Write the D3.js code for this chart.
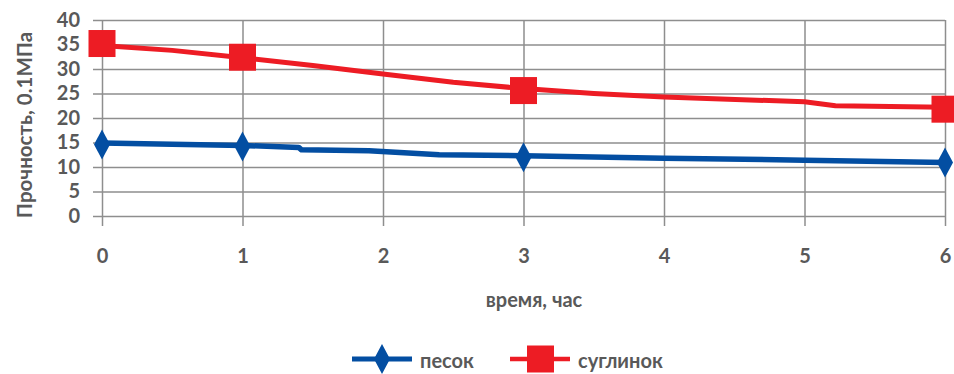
<!DOCTYPE html>
<html>
<head>
<meta charset="utf-8">
<script src="https://cdn.jsdelivr.net/npm/d3@7"></script>
<style>
  html, body { margin: 0; padding: 0; background: #fff; }
  svg { display: block; font-family: Lato, "Open Sans", sans-serif; }
</style>
</head>
<body>
<svg id="chart" width="954" height="374"></svg>
<script>
// Time axis (hours) and strength axis (0.1 MPa)
const xTicks = [0, 1, 2, 3, 4, 5, 6];
const yTicks = [0, 5, 10, 15, 20, 25, 30, 35, 40];

// Sand (песок): measured curve and marked points
const sandTime   = [0, 1, 1.4, 1.42, 1.9, 2.4, 3, 4, 5, 6];
const sandValue  = [14.9, 14.4, 14.0, 13.5, 13.3, 12.5, 12.3, 11.8, 11.4, 10.9];
const sandMarkT  = [0, 1, 3, 6];
const sandMarkV  = [14.6, 14.2, 12.0, 10.9];

// Loam (суглинок): measured curve and marked points
const loamTime   = [0, 0.5, 1, 1.5, 2, 2.5, 3, 3.5, 4, 5, 5.22, 6];
const loamValue  = [34.8, 33.8, 32.3, 30.7, 29.0, 27.3, 26.0, 25.0, 24.3, 23.3, 22.5, 22.2];
const loamMarkT  = [0, 1, 3, 6];
const loamMarkV  = [35.2, 32.4, 25.6, 21.8];

const seriesNames = ["песок", "суглинок"];
const colors = { sand: "#034EA2", loam: "#ED1C24" };
const textColor = "#595959";
const gridColor = "#8E8E8E";

const svg = d3.select("#chart");
const plotLeft = 102, plotRight = 945, plotTop = 20, plotBottom = 216;

const x = d3.scaleLinear().domain([0, 6]).range([plotLeft, plotRight]);
const y = d3.scaleLinear().domain([0, 40]).range([plotBottom, plotTop]);

// Horizontal gridlines with short ticks to the left
const yAxis = d3.axisLeft(y).tickValues(yTicks).tickFormat(d3.format("d"))
  .tickSize(-(plotRight - plotLeft)).tickSizeOuter(0).tickPadding(22);
const gy = svg.append("g").attr("transform", `translate(${plotLeft},0)`).call(yAxis);
gy.select(".domain").remove();
gy.selectAll(".tick line")
  .attr("x1", -9)
  .attr("stroke", gridColor).attr("stroke-width", 1.5);
gy.selectAll(".tick text")
  .attr("fill", textColor).attr("font-size", 20).attr("font-weight", 700)
  .attr("font-family", "Lato, sans-serif");

// Vertical gridlines extending slightly below the baseline
const xAxis = d3.axisBottom(x).tickValues(xTicks).tickFormat(d3.format("d"))
  .tickSize(-(plotBottom - plotTop)).tickSizeOuter(0).tickPadding(33);
const gx = svg.append("g").attr("transform", `translate(0,${plotBottom})`).call(xAxis);
gx.select(".domain").remove();
gx.selectAll(".tick line")
  .attr("y1", 10)
  .attr("stroke", gridColor).attr("stroke-width", 1.5);
gx.selectAll(".tick text")
  .attr("fill", textColor).attr("font-size", 20).attr("font-weight", 700)
  .attr("font-family", "Lato, sans-serif");

// Axis titles
svg.append("text")
  .attr("x", 534).attr("y", 307)
  .attr("text-anchor", "middle")
  .attr("fill", textColor).attr("font-size", 20).attr("font-weight", 700)
  .text("время, час");

svg.append("text")
  .attr("transform", "translate(32,125) rotate(-90)")
  .attr("text-anchor", "middle")
  .attr("fill", textColor).attr("font-size", 20.5).attr("font-weight", 700)
  .text("Прочность, 0.1МПа");

const line = d3.line().x(d => x(d[0])).y(d => y(d[1]));

// Curves
svg.append("path")
  .datum(loamTime.map((t, i) => [t, loamValue[i]]))
  .attr("d", line).attr("fill", "none")
  .attr("stroke", colors.loam).attr("stroke-width", 5).attr("stroke-linejoin", "round");

svg.append("path")
  .datum(sandTime.map((t, i) => [t, sandValue[i]]))
  .attr("d", line).attr("fill", "none")
  .attr("stroke", colors.sand).attr("stroke-width", 5.5).attr("stroke-linejoin", "round");

// Marker shapes
const sq = 27;
const diamond = (cx, cy) => `M${cx},${cy - 15}L${cx + 8},${cy}L${cx},${cy + 15}L${cx - 8},${cy}Z`;

svg.append("g").selectAll("rect")
  .data(loamMarkT.map((t, i) => [t, loamMarkV[i]]))
  .join("rect")
  .attr("x", d => x(d[0]) - sq / 2).attr("y", d => y(d[1]) - sq / 2)
  .attr("width", sq).attr("height", sq)
  .attr("fill", colors.loam);

svg.append("g").selectAll("path")
  .data(sandMarkT.map((t, i) => [t, sandMarkV[i]]))
  .join("path")
  .attr("d", d => diamond(x(d[0]), y(d[1])))
  .attr("fill", colors.sand);

// Legend
const ly = 359;
const lg = svg.append("g");
lg.append("line").attr("x1", 352).attr("x2", 412).attr("y1", ly).attr("y2", ly)
  .attr("stroke", colors.sand).attr("stroke-width", 5);
lg.append("path").attr("d", diamond(382, ly)).attr("fill", colors.sand);
lg.append("text").attr("x", 420).attr("y", 368)
  .attr("fill", textColor).attr("font-size", 20).attr("font-weight", 700)
  .text(seriesNames[0]);

lg.append("line").attr("x1", 510).attr("x2", 570).attr("y1", ly).attr("y2", ly)
  .attr("stroke", colors.loam).attr("stroke-width", 4.5);
lg.append("rect").attr("x", 540.5 - sq / 2).attr("y", ly - sq / 2)
  .attr("width", sq).attr("height", sq).attr("fill", colors.loam);
lg.append("text").attr("x", 578).attr("y", 368)
  .attr("fill", textColor).attr("font-size", 20).attr("font-weight", 700)
  .text(seriesNames[1]);
</script>
</body>
</html>
